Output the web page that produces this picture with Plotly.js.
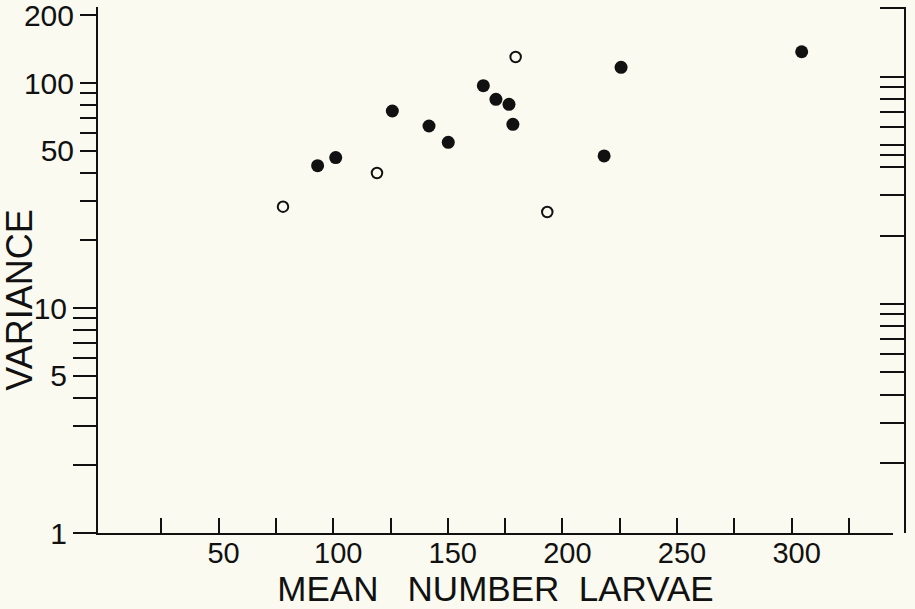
<!DOCTYPE html>
<html>
<head>
<meta charset="utf-8">
<script src="https://cdn.plot.ly/plotly-3.0.1.min.js"></script>
<style>
  html, body { margin: 0; padding: 0; background: #fafaf0; }
  #chart { width: 915px; height: 609px; }
</style>
</head>
<body>
<div id="chart"></div>
<script>
// Filled circles
const filledMean = [93.2, 101.1, 125.8, 141.8, 150.2, 165.5, 171.0, 176.7, 178.4, 218.2, 225.6, 304.4];
const filledVariance = [42.9, 46.6, 75.1, 64.4, 54.5, 97.3, 84.6, 80.4, 65.5, 47.4, 117.4, 137.7];
// Open circles
const openMean = [78.1, 119.1, 179.6, 193.4];
const openVariance = [28.2, 39.8, 130.5, 26.7];

// Axis ticks
const xTickVals = [25, 50, 75, 100, 125, 150, 175, 200, 225, 250, 275, 300, 325];
const xTickText = ['', '50', '', '100', '', '150', '', '200', '', '250', '', '300', ''];
const yUpperTickVals = [20, 30, 40, 50, 60, 70, 80, 90, 100, 200];
const yUpperTickText = ['', '', '', '50', '', '', '', '', '100', '200'];
const yLowerTickVals = [1, 2, 3, 4, 5, 6, 7, 8, 9, 10];
const yLowerTickText = ['1', '', '', '', '5', '', '', '', '', '10'];
const yRightTickVals = [2, 3, 4, 5, 6, 7, 8, 9, 10, 20, 30, 40, 45, 50, 60, 70, 80, 90, 100, 200];

const ink = '#111111';
const bg = '#fafaf0';

const traces = [
  {
    x: filledMean, y: filledVariance, type: 'scatter', mode: 'markers',
    marker: { symbol: 'circle', size: 13, color: ink },
    showlegend: false, hoverinfo: 'x+y'
  },
  {
    x: openMean, y: openVariance, type: 'scatter', mode: 'markers',
    marker: { symbol: 'circle-open', size: 10.5, color: ink, line: { width: 2, color: ink } },
    showlegend: false, hoverinfo: 'x+y'
  },
  { x: [], y: [], yaxis: 'y2', type: 'scatter', mode: 'markers', showlegend: false, hoverinfo: 'skip' },
  { x: [], y: [], yaxis: 'y3', type: 'scatter', mode: 'markers', showlegend: false, hoverinfo: 'skip' }
];

const tickFontY = { family: 'Liberation Sans, Arial, sans-serif', size: 30, color: ink };
const tickFontX = { family: 'Liberation Sans, Arial, sans-serif', size: 29, color: ink };

const layout = {
  width: 915, height: 609,
  margin: { l: 98, r: 10, t: 7, b: 76, pad: 0 },
  paper_bgcolor: bg, plot_bgcolor: bg,
  showlegend: false,
  xaxis: {
    domain: [0, 0.985],
    range: [-2.62, 344.2],
    showgrid: false, zeroline: false,
    showline: true, linecolor: ink, linewidth: 2,
    ticks: 'inside', ticklen: 15, tickwidth: 2, tickcolor: ink,
    tickmode: 'array', tickvals: xTickVals, ticktext: xTickText,
    ticklabelshift: 5, ticklabelstandoff: -7,
    tickfont: tickFontX,
    title: {
      text: 'MEAN\u00a0\u00a0\u00a0NUMBER\u00a0\u00a0LARVAE',
      font: { family: 'Liberation Sans, Arial, sans-serif', size: 35, color: ink },
      standoff: 4
    }
  },
  yaxis: {
    type: 'log',
    range: [0, 2.3378],
    showgrid: false, zeroline: false,
    showline: true, linecolor: ink, linewidth: 2,
    ticks: 'outside', ticklen: 16, tickwidth: 2, tickcolor: ink,
    tickmode: 'array', tickvals: yUpperTickVals, ticktext: yUpperTickText,
    ticklabeloverflow: 'allow',
    tickfont: tickFontY
  },
  yaxis3: {
    type: 'log',
    overlaying: 'y', side: 'left', anchor: 'x',
    range: [0, 2.3378],
    showgrid: false, zeroline: false, showline: false,
    ticks: 'outside', ticklen: 24, tickwidth: 2, tickcolor: ink,
    tickmode: 'array', tickvals: yLowerTickVals, ticktext: yLowerTickText,
    ticklabeloverflow: 'allow',
    tickfont: tickFontY
  },
  yaxis2: {
    type: 'log',
    overlaying: 'y', side: 'right', anchor: 'free', position: 1,
    range: [-0.0066, 2.3055],
    showgrid: false, zeroline: false,
    showline: true, linecolor: ink, linewidth: 2,
    ticks: 'inside', ticklen: 24, tickwidth: 2, tickcolor: ink,
    tickmode: 'array', tickvals: yRightTickVals,
    showticklabels: false
  },
  annotations: [
    {
      text: 'VARIANCE', textangle: -90,
      xref: 'paper', yref: 'paper', x: -0.097, y: 0.443,
      xanchor: 'center', yanchor: 'middle', showarrow: false,
      font: { family: 'Liberation Sans, Arial, sans-serif', size: 36, color: ink }
    }
  ]
};

Plotly.newPlot('chart', traces, layout, { displayModeBar: false, staticPlot: true });
</script>
</body>
</html>
